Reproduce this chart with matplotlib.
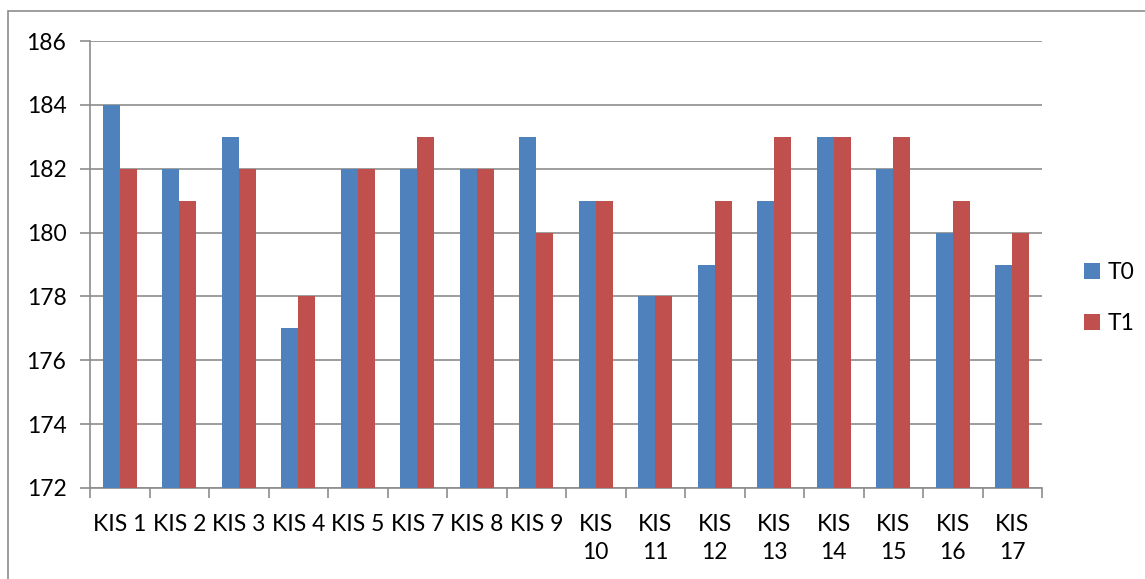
import matplotlib
matplotlib.use("Agg")
import matplotlib.pyplot as plt
import numpy as np
from matplotlib.patches import Rectangle

categories = ["KIS 1", "KIS 2", "KIS 3", "KIS 4", "KIS 5", "KIS 7", "KIS 8", "KIS 9",
              "KIS\n10", "KIS\n11", "KIS\n12", "KIS\n13", "KIS\n14", "KIS\n15", "KIS\n16", "KIS\n17"]
t0 = [184, 182, 183, 177, 182, 182, 182, 183, 181, 178, 179, 181, 183, 182, 180, 179]
t1 = [182, 181, 182, 178, 182, 183, 182, 180, 181, 178, 181, 183, 183, 183, 181, 180]
y_ticks = [172, 174, 176, 178, 180, 182, 184, 186]

plt.rcParams['font.family'] = ['Lato', 'DejaVu Sans']
FS = 16.5

W, H = 1145, 579
fig = plt.figure(figsize=(W / 100, H / 100), dpi=100)
ax = fig.add_axes([90 / W, 1 - 488 / H, (1042 - 90) / W, (488 - 41) / H])

# outer chart frame
fig.patches.append(Rectangle((8 / W, -0.1), 1.2, 1 - 11 / H + 0.1, transform=fig.transFigure,
                             fill=False, edgecolor="#8c8c8c", linewidth=1.2))

x = np.arange(len(categories))
bw = 1 / 3.5
blue = "#4f81bd"
red = "#c0504d"
ax.bar(x - bw / 2, np.array(t0) - 172, bw, bottom=172, color=blue, label="T0", zorder=3)
ax.bar(x + bw / 2, np.array(t1) - 172, bw, bottom=172, color=red, label="T1", zorder=3)

ax.set_xlim(-0.5, len(categories) - 0.5)
ax.set_ylim(172, 186)
ax.set_yticks(y_ticks)
ax.set_yticklabels([str(v) for v in y_ticks], fontsize=FS)
ax.set_xticks(x)
ax.set_xticklabels(categories, fontsize=FS, linespacing=1.4)
ax.set_xticks(np.arange(len(categories) + 1) - 0.5, minor=True)
ax.tick_params(axis="x", which="major", length=0, pad=19)
ax.tick_params(axis="x", which="minor", length=7, color="#8c8c8c", width=1.2)
ax.tick_params(axis="y", length=7, color="#8c8c8c", width=1.2, pad=10)

ax.grid(axis="y", color="#8c8c8c", linewidth=1.2, zorder=0)
for s in ["top", "right"]:
    ax.spines[s].set_visible(False)
for s in ["left", "bottom"]:
    ax.spines[s].set_color("#8c8c8c")
    ax.spines[s].set_linewidth(1.2)

fig.legend(loc="center left", bbox_to_anchor=(1063 / W, 1 - 298 / H), frameon=False,
           fontsize=FS, handlelength=0.7, handleheight=0.7, handletextpad=0.35,
           labelspacing=1.3)

fig.savefig("out.png", dpi=100)
